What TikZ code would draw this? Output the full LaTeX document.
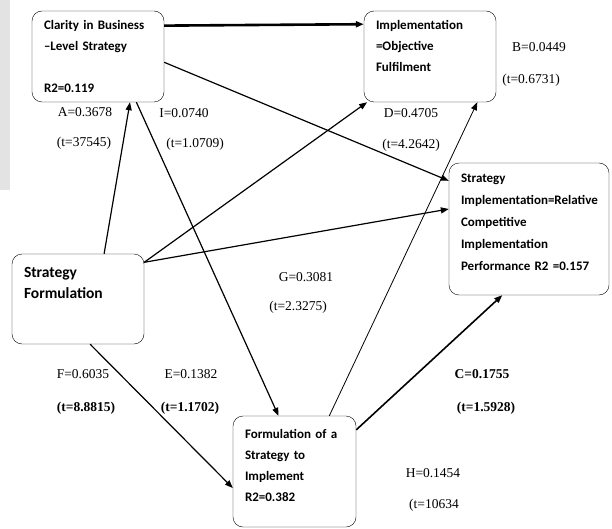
\documentclass[tikz,border=0pt]{standalone}
\usepackage{fontspec}
\setmainfont{Liberation Serif}
\newfontfamily\boxfont{Carlito}
\usepackage{tikz}
\usetikzlibrary{arrows.meta}
\tikzset{every node/.style={font=\fontsize{13.5}{16}\selectfont}}

\begin{document}
\begin{tikzpicture}[
x=1pt, y=-1pt,
box/.style={
draw,
rectangle,
rounded corners=10pt,
align=left,
inner xsep=12pt,
font=\boxfont\bfseries\fontsize{13}{21}\selectfont
},
coef/.style={inner sep=0pt},
link/.style={line width=1.2pt, -{Triangle[length=8pt,width=6pt]}}
]
\useasboundingbox (0,0) rectangle (612,529);
\fill[gray!22] (0,0) rectangle (10,190);

\node[box, minimum width=132pt, minimum height=91pt, text width=108pt] (clarity) at (98,56.5)
{Clarity in Business\\–Level Strategy\\[21pt]R2=0.119};
\node[box, minimum width=132pt, minimum height=91pt, text width=108pt] (objective) at (430,56.5)
{Implementation\\=Objective\\Fulfilment\\~};
\node[box, minimum width=132pt, minimum height=90pt, text width=108pt,
font=\boxfont\bfseries\fontsize{15.5}{21}\selectfont] (formulation) at (78,299)
{Strategy\\Formulation\\[11pt]~};
\node[box, minimum width=160pt, minimum height=132pt, text width=136pt,
font=\boxfont\bfseries\fontsize{13}{22}\selectfont] (relative) at (529,229)
{Strategy\\Implementation=Relative\\Competitive\\Implementation\\Performance R2 =0.157\\[-8pt]~};
\node[box, minimum width=123pt, minimum height=111pt, text width=99pt] (toimplement) at (294.5,471.5)
{Formulation of a\\Strategy to\\Implement\\R2=0.382\\[-9pt]~};

% path coefficients
\node[coef] (a) at (85,112) {A=0.3678};
\node[coef] (at) at (84,143) {(t=37545)};
\node[coef] (i) at (184,113) {I=0.0740};
\node[coef] (it) at (195,144) {(t=1.0709)};
\node[coef] (d) at (411,113) {D=0.4705};
\node[coef] (dt) at (411,145) {(t=4.2642)};
\node[coef] (b) at (539,47) {B=0.0449};
\node[coef] (bt) at (531,80) {(t=0.6731)};
\node[coef] (g) at (306,277) {G=0.3081};
\node[coef] (gt) at (298,307) {(t=2.3275)};
\node[coef] (f) at (83,374) {F=0.6035};
\node[coef] (ft) at (86,408) {\textbf{(t=8.8815)}};
\node[coef] (e) at (191,374) {E=0.1382};
\node[coef] (et) at (190,408) {\textbf{(t=1.1702)}};
\node[coef] (c) at (482,374) {\textbf{C=0.1755}};
\node[coef] (ct) at (486,408) {\textbf{(t=1.5928)}};
\node[coef] (h) at (433,473) {H=0.1454};
\node[coef] (ht) at (434,505) {(t=10634};

\draw[link, line width=2.6pt] (clarity.25.5) -- (objective.154.5);
\draw[link] (clarity.-5.6) -- (relative.149.6);
\draw[link] (formulation.60) -- (clarity.-55.7);
\draw[link] (clarity.-50.1) -- (toimplement.106.6);
\draw[link] (formulation.29.3) -- (objective.-144);
\draw[link] (formulation.29.3) -- (relative.166);
\draw[link] (formulation.-75) -- (toimplement.-165.9);
\draw[link, line width=0.8pt] (toimplement.58.4) -- (objective.-44.1);
\draw[link, line width=1.6pt] (toimplement.34.6) -- (relative.-112.9);

\end{tikzpicture}
\end{document}
